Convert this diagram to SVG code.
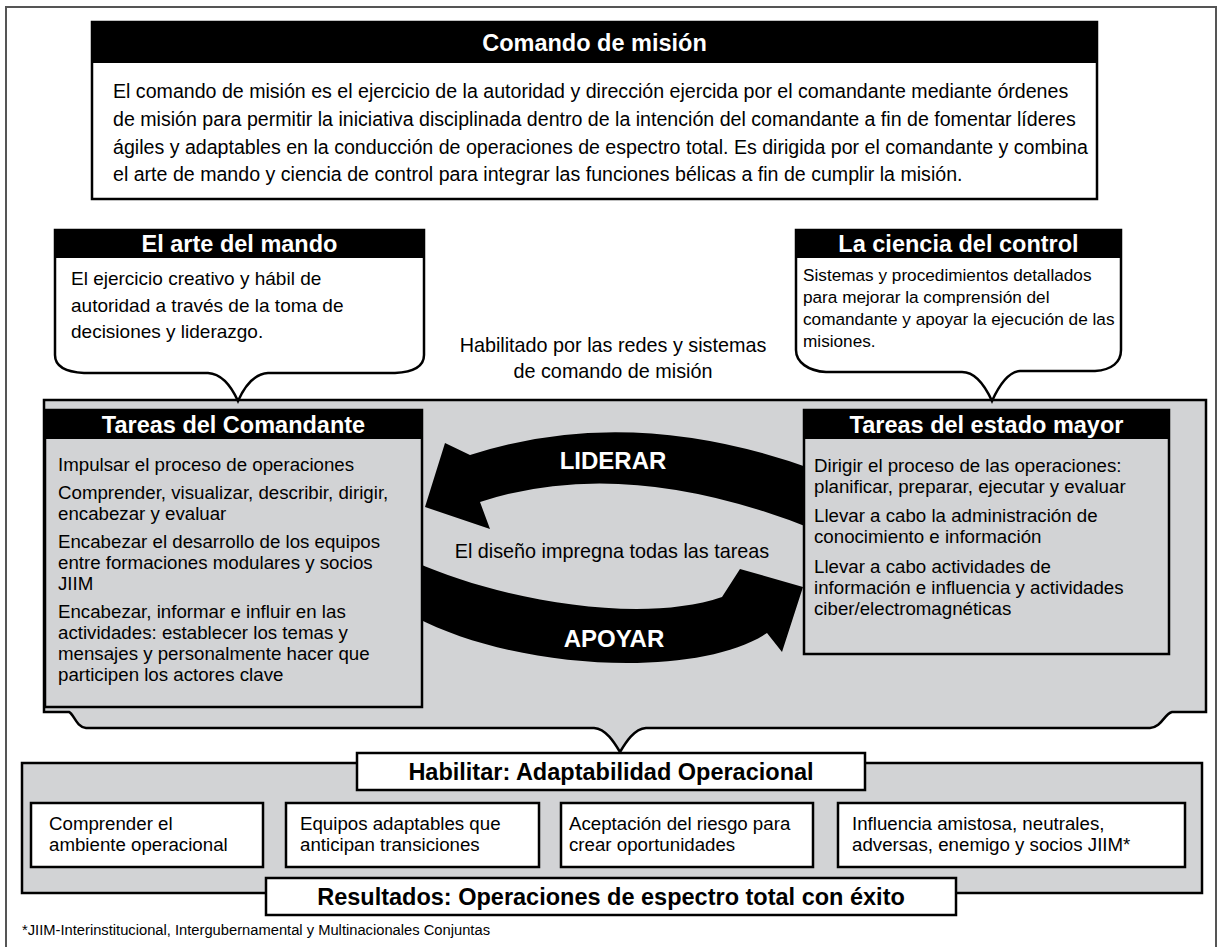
<svg xmlns="http://www.w3.org/2000/svg" width="1221" height="947" viewBox="0 0 1221 947">
<style>
.frame{fill:none;stroke:#555;stroke-width:2}
.hdr{fill:#000}
.wbox{fill:#fff;stroke:#000;stroke-width:2.5}
.gbox{fill:#d2d3d5;stroke:#000;stroke-width:2.5}
.ttl{font-family:'Liberation Sans',Arial,sans-serif;font-weight:700;font-size:23.5px;fill:#fff;text-anchor:middle}
.ttlb{font-family:'Liberation Sans',Arial,sans-serif;font-weight:700;font-size:23.5px;fill:#000;text-anchor:middle}
.big{font-family:'Liberation Sans',Arial,sans-serif;font-weight:700;font-size:24px;fill:#fff;text-anchor:middle}
.t{font-family:'Liberation Sans',Arial,sans-serif;font-size:18.7px;fill:#000}
.tc{font-family:'Liberation Sans',Arial,sans-serif;font-size:19.8px;fill:#000;text-anchor:middle}
.arrow{fill:#000}
</style>
<rect x="0" y="0" width="1221" height="947" fill="#fff"/>
<path class="frame" d="M6,947 V7 H1216 V947"/>

<g id="comando-mision">
<rect class="wbox" x="92" y="22" width="1005" height="177"/>
<rect class="hdr" x="92" y="22" width="1005" height="41"/>
<text class="ttl" x="594.5" y="51">Comando de misión</text>
<text class="t" style="font-size:19.6px" x="113" y="98">El comando de misión es el ejercicio de la autoridad y dirección ejercida por el comandante mediante órdenes</text>
<text class="t" style="font-size:19.6px" x="113" y="126">de misión para permitir la iniciativa disciplinada dentro de la intención del comandante a fin de fomentar líderes</text>
<text class="t" style="font-size:19.6px" x="113" y="153.5">ágiles y adaptables en la conducción de operaciones de espectro total. Es dirigida por el comandante y combina</text>
<text class="t" style="font-size:19.6px" x="113" y="181">el arte de mando y ciencia de control para integrar las funciones bélicas a fin de cumplir la misión.</text>
</g>

<g id="panel">
<path class="gbox" d="M44,400 H1206 V712 H1172 C1164,714 1162,727 1150,728 H646 C634,729 626,742 620,752 C614,742 606,729 594,728 H86 C76,727 74,714 69,712 H44 Z"/>
</g>

<g id="arte-mando">
<path class="wbox" d="M55,230 H424 V355 C424,366 414,372 395,373 H268 C252,374 243,390 238,401 C233,390 224,374 208,373 H84 C66,372 55,366 55,355 Z"/>
<rect class="hdr" x="55" y="230" width="369" height="28"/>
<text class="ttl" x="239.5" y="252">El arte del mando</text>
<text class="t" style="font-size:19px" x="71" y="285">El ejercicio creativo y hábil de</text>
<text class="t" style="font-size:19px" x="71" y="312">autoridad a través de la toma de</text>
<text class="t" style="font-size:19px" x="71" y="338">decisiones y liderazgo.</text>
</g>

<g id="ciencia-control">
<path class="wbox" d="M796,230 H1121 V350 C1121,362 1112,370 1095,371 H1020 C1006,372 997,390 992,401 C987,390 977,372 962,372 H826 C808,371 796,362 796,350 Z"/>
<rect class="hdr" x="796" y="230" width="325" height="28"/>
<text class="ttl" x="958.5" y="252">La ciencia del control</text>
<text class="t" style="font-size:17.2px" x="803" y="281">Sistemas y procedimientos detallados</text>
<text class="t" style="font-size:17.2px" x="803" y="303">para mejorar la comprensión del</text>
<text class="t" style="font-size:17.2px" x="803" y="325">comandante y apoyar la ejecución de las</text>
<text class="t" style="font-size:17.2px" x="803" y="347">misiones.</text>
</g>

<g id="habilitado-label">
<text class="tc" x="613" y="352">Habilitado por las redes y sistemas</text>
<text class="tc" x="613" y="378">de comando de misión</text>
</g>

<g id="connectors">
<path id="liderar" class="arrow" d="M815,470 Q631,403 470,455 L445,443 L425,507 L490,529 L480,502 Q626,454 815,530 Z"/>
<path id="apoyar" class="arrow" d="M415,562 C500,600 640,625 722,597 L740,569 L803,587 L782,652 L767,633 C700,678 520,672 415,617 Z"/>
<text class="big" x="613" y="469">LIDERAR</text>
<text class="big" x="614" y="647">APOYAR</text>
</g>

<g id="diseno-label">
<text class="tc" x="612" y="558">El diseño impregna todas las tareas</text>
</g>

<g id="tareas-comandante">
<rect class="gbox" x="45" y="410" width="377" height="297"/>
<rect class="hdr" x="45" y="410" width="377" height="29"/>
<text class="ttl" x="233.5" y="433">Tareas del Comandante</text>
<text class="t" x="58" y="471">Impulsar el proceso de operaciones</text>
<text class="t" x="58" y="499">Comprender, visualizar, describir, dirigir,</text>
<text class="t" x="58" y="520">encabezar y evaluar</text>
<text class="t" x="58" y="548">Encabezar el desarrollo de los equipos</text>
<text class="t" x="58" y="569">entre formaciones modulares y socios</text>
<text class="t" x="58" y="590">JIIM</text>
<text class="t" x="58" y="618">Encabezar, informar e influir en las</text>
<text class="t" x="58" y="639">actividades: establecer los temas y</text>
<text class="t" x="58" y="660">mensajes y personalmente hacer que</text>
<text class="t" x="58" y="681">participen los actores clave</text>
</g>

<g id="tareas-estado-mayor">
<rect class="gbox" x="804" y="410" width="365" height="244"/>
<rect class="hdr" x="804" y="410" width="365" height="29"/>
<text class="ttl" x="986.5" y="433">Tareas del estado mayor</text>
<text class="t" x="814" y="472">Dirigir el proceso de las operaciones:</text>
<text class="t" x="814" y="493">planificar, preparar, ejecutar y evaluar</text>
<text class="t" x="814" y="522">Llevar a cabo la administración de</text>
<text class="t" x="814" y="543">conocimiento e información</text>
<text class="t" x="814" y="573">Llevar a cabo actividades de</text>
<text class="t" x="814" y="594">información e influencia y actividades</text>
<text class="t" x="814" y="615">ciber/electromagnéticas</text>
</g>

<g id="adaptabilidad">
<rect class="gbox" x="22" y="763" width="1180" height="130"/>
<rect class="wbox" x="357" y="753" width="508" height="37"/>
<text class="ttlb" x="611" y="780">Habilitar: Adaptabilidad Operacional</text>
</g>

<g id="comprender-ambiente">
<rect class="wbox" x="31" y="803" width="232" height="64"/>
<text class="t" x="49" y="830">Comprender el</text>
<text class="t" x="49" y="851">ambiente operacional</text>
</g>
<g id="equipos-adaptables">
<rect class="wbox" x="286" y="803" width="253" height="64"/>
<text class="t" x="300" y="830">Equipos adaptables que</text>
<text class="t" x="300" y="851">anticipan transiciones</text>
</g>
<g id="aceptacion-riesgo">
<rect class="wbox" x="561" y="803" width="252" height="64"/>
<text class="t" x="569" y="830">Aceptación del riesgo para</text>
<text class="t" x="569" y="851">crear oportunidades</text>
</g>
<g id="influencia">
<rect class="wbox" x="838" y="803" width="347" height="64"/>
<text class="t" x="852" y="830">Influencia amistosa, neutrales,</text>
<text class="t" x="852" y="851">adversas, enemigo y socios JIIM*</text>
</g>

<g id="resultados">
<rect class="wbox" x="266" y="878" width="690" height="37"/>
<text class="ttlb" x="611" y="905">Resultados: Operaciones de espectro total con éxito</text>
</g>

<g id="footnote">
<text class="t" style="font-size:14px" x="22" y="935" textLength="468" lengthAdjust="spacingAndGlyphs">*JIIM-Interinstitucional, Intergubernamental y Multinacionales Conjuntas</text>
</g>
</svg>
